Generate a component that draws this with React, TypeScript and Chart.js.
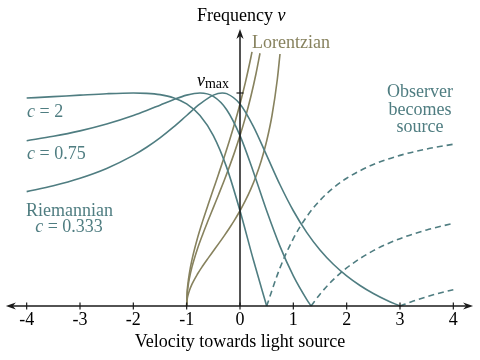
import React, { useEffect, useRef } from "react";
import { Chart, registerables } from "chart.js";

Chart.register(...registerables);

const TEAL = "#4f7d81";
const OLIVE = "#87825e";
const AXIS = "#1a1a1a";

// x-axis tick values and labels
const tickValues = [-4, -3, -2, -1, 0, 1, 2, 3, 4];
const tickLabels = ["-4", "-3", "-2", "-1", "0", "1", "2", "3", "4"];

// Riemannian c = 2
const c2SolidX = [-4, -3.5, -3, -2.5, -2, -1.75, -1.5, -1.25, -1, -0.75, -0.5, -0.25, 0, 0.25, 0.5];
const c2SolidY = [0.9762, 0.9829, 0.9899, 0.9965, 1.0, 0.9984, 0.9923, 0.9778, 0.9487, 0.8944, 0.8, 0.6508, 0.4472, 0.2169, 0];
const c2DashX = [0.5, 0.75, 1, 1.25, 1.5, 1.75, 2, 2.5, 3, 3.5, 4];
const c2DashY = [0, 0.1789, 0.3162, 0.4191, 0.4961, 0.5547, 0.6, 0.6644, 0.7071, 0.7371, 0.7593];

// Riemannian c = 0.75
const c075SolidX = [-4, -3.5, -3, -2.5, -2, -1.75, -1.5, -1.25, -1, -0.75, -0.5, -0.25, 0, 0.25, 0.5, 0.75, 1, 1.25, 1.3333];
const c075SolidY = [0.7761, 0.7967, 0.8222, 0.8542, 0.8944, 0.9178, 0.943, 0.9683, 0.9899, 1.0, 0.9839, 0.9216, 0.8, 0.6306, 0.4472, 0.28, 0.1414, 0.0312, 0];
const c075DashX = [1.3333, 1.5, 1.75, 2, 2.5, 3, 3.5, 4];
const c075DashY = [0, 0.0555, 0.124, 0.1789, 0.26, 0.3162, 0.3571, 0.3881];

// Riemannian c = 0.333
const c033SolidX = [-4, -3.5, -3, -2.5, -2, -1.75, -1.5, -1.25, -1, -0.75, -0.5, -0.3333, -0.25, 0, 0.25, 0.5, 0.75, 1, 1.25, 1.5, 1.75, 2, 2.25, 2.5, 2.75, 3];
const c033SolidY = [0.5369, 0.5647, 0.6, 0.6459, 0.7071, 0.7452, 0.7893, 0.8396, 0.8944, 0.9487, 0.99, 1.0, 0.997, 0.9487, 0.8436, 0.7071, 0.5692, 0.4472, 0.3457, 0.2631, 0.1961, 0.1414, 0.0963, 0.0587, 0.027, 0];
const c033DashX = [3, 3.25, 3.5, 3.75, 4];
const c033DashY = [0, 0.0232, 0.0434, 0.0611, 0.0767];

// Lorentzian curves
const lorC2X = [-1, -0.99, -0.975, -0.95, -0.9, -0.8, -0.7, -0.6, -0.5, -0.4, -0.3, -0.2, -0.1, 0, 0.1, 0.2, 0.3, 0.4, 0.5, 0.6, 0.7, 0.75];
const lorC2Y = [0, 0.0317, 0.0503, 0.0716, 0.1026, 0.1491, 0.1879, 0.2236, 0.2582, 0.2928, 0.3282, 0.3651, 0.4045, 0.4472, 0.4944, 0.5477, 0.6095, 0.6831, 0.7746, 0.8944, 1.0646, 1.1832];
const lorC075X = [-1, -0.99, -0.975, -0.95, -0.9, -0.8, -0.7, -0.6, -0.5, -0.4, -0.3, -0.2, -0.1, 0, 0.1, 0.2, 0.3, 0.375];
const lorC075Y = [0, 0.0567, 0.09, 0.1281, 0.1835, 0.2667, 0.3361, 0.4, 0.4619, 0.5238, 0.587, 0.6532, 0.7236, 0.8, 0.8844, 0.9798, 1.0902, 1.1866];
const lorC033X = [-1, -0.99, -0.975, -0.95, -0.9, -0.8, -0.7, -0.6, -0.5, -0.4, -0.3, -0.2, -0.1, 0, 0.1, 0.2, 0.225];
const lorC033Y = [0, 0.0673, 0.1067, 0.1519, 0.2176, 0.3162, 0.3985, 0.4743, 0.5477, 0.6211, 0.6961, 0.7746, 0.8581, 0.9487, 1.0488, 1.1619, 1.1927];

const X_MIN = -4.5;
const X_MAX = 4.5;
const Y_MIN = -0.2535;
const Y_MAX = 1.4366;

const SERIF = "'Liberation Serif', 'Times New Roman', serif";
const F18 = `18px ${SERIF}`;
const F18I = `italic 18px ${SERIF}`;
const F14 = `14px ${SERIF}`;

function zip(xs: number[], ys: number[]) {
  return xs.map((x, i) => ({ x, y: ys[i] }));
}

type Run = { t: string; font: string; dy?: number };

function drawRuns(ctx: CanvasRenderingContext2D, runs: Run[], x: number, y: number, align: "left" | "center" | "right", color: string) {
  ctx.save();
  ctx.fillStyle = color;
  ctx.textBaseline = "alphabetic";
  ctx.textAlign = "left";
  let total = 0;
  const widths = runs.map((r) => {
    ctx.font = r.font;
    const w = ctx.measureText(r.t).width;
    total += w;
    return w;
  });
  let cx = align === "left" ? x : align === "center" ? x - total / 2 : x - total;
  runs.forEach((r, i) => {
    ctx.font = r.font;
    ctx.fillText(r.t, cx, y + (r.dy || 0));
    cx += widths[i];
  });
  ctx.restore();
}

function arrowHead(ctx: CanvasRenderingContext2D, tx: number, ty: number, dx: number, dy: number) {
  // dx,dy: unit direction of the arrow
  const len = 10;
  const half = 3.6;
  const notch = 7;
  const px = -dy;
  const py = dx;
  ctx.beginPath();
  ctx.moveTo(tx, ty);
  ctx.lineTo(tx - dx * len + px * half, ty - dy * len + py * half);
  ctx.lineTo(tx - dx * notch, ty - dy * notch);
  ctx.lineTo(tx - dx * len - px * half, ty - dy * len - py * half);
  ctx.closePath();
  ctx.fill();
}

const decorPlugin = {
  id: "decor",
  afterDatasetsDraw(chart: any) {
    const ctx: CanvasRenderingContext2D = chart.ctx;
    const xs = chart.scales.x;
    const ys = chart.scales.y;
    const y0 = ys.getPixelForValue(0);
    const x0 = xs.getPixelForValue(0);
    ctx.save();
    ctx.strokeStyle = AXIS;
    ctx.fillStyle = AXIS;
    ctx.lineWidth = 1.5;
    // x axis
    const xl = xs.getPixelForValue(-4.39);
    const xr = xs.getPixelForValue(4.37);
    ctx.beginPath();
    ctx.moveTo(xl + 4, y0);
    ctx.lineTo(xr - 4, y0);
    ctx.stroke();
    arrowHead(ctx, xl, y0, -1, 0);
    arrowHead(ctx, xr, y0, 1, 0);
    // y axis
    const yt = ys.getPixelForValue(1.3);
    ctx.beginPath();
    ctx.moveTo(x0, y0);
    ctx.lineTo(x0, yt + 4);
    ctx.stroke();
    arrowHead(ctx, x0, yt, 0, -1);
    // ticks
    ctx.lineWidth = 1.2;
    tickValues.forEach((v) => {
      const px = xs.getPixelForValue(v);
      ctx.beginPath();
      ctx.moveTo(px, y0 - 3.5);
      ctx.lineTo(px, y0 + 3.5);
      ctx.stroke();
    });
    // nu_max tick
    const ymax = ys.getPixelForValue(1);
    ctx.beginPath();
    ctx.moveTo(x0 - 3.5, ymax);
    ctx.lineTo(x0 + 3.5, ymax);
    ctx.stroke();
    ctx.restore();

    // tick labels
    ctx.save();
    ctx.font = F18;
    ctx.fillStyle = "#000";
    ctx.textAlign = "center";
    ctx.textBaseline = "alphabetic";
    tickValues.forEach((v, i) => {
      ctx.fillText(tickLabels[i], xs.getPixelForValue(v), y0 + 19);
    });
    ctx.fillText("Velocity towards light source", x0, 347);
    ctx.restore();

    drawRuns(ctx, [{ t: "Frequency ", font: F18 }, { t: "ν", font: F18I }], 197, 21, "left", "#000");
    drawRuns(ctx, [{ t: "ν", font: F18I }, { t: "max", font: F14, dy: 2 }], 229, 86, "right", "#000");

    drawRuns(ctx, [{ t: "Lorentzian", font: F18 }], 252, 48, "left", OLIVE);

    drawRuns(ctx, [{ t: "Observer", font: F18 }], 420, 97, "center", TEAL);
    drawRuns(ctx, [{ t: "becomes", font: F18 }], 420, 114.5, "center", TEAL);
    drawRuns(ctx, [{ t: "source", font: F18 }], 420, 132, "center", TEAL);

    drawRuns(ctx, [{ t: "c", font: F18I }, { t: " = 2", font: F18 }], 27, 117, "left", TEAL);
    drawRuns(ctx, [{ t: "c", font: F18I }, { t: " = 0.75", font: F18 }], 27, 159, "left", TEAL);
    drawRuns(ctx, [{ t: "Riemannian", font: F18 }], 69.5, 216, "center", TEAL);
    drawRuns(ctx, [{ t: "c", font: F18I }, { t: " = 0.333", font: F18 }], 69, 232, "center", TEAL);
  },
};

function solid(label: string, xs: number[], ys: number[], color: string) {
  return {
    label,
    data: zip(xs, ys),
    borderColor: color,
    borderWidth: 1.6,
    pointRadius: 0,
    fill: false,
    cubicInterpolationMode: "monotone" as const,
  };
}

function dashed(label: string, xs: number[], ys: number[], color: string) {
  return { ...solid(label, xs, ys, color), borderDash: [6, 4] };
}

export default function App() {
  const ref = useRef<HTMLCanvasElement>(null);
  useEffect(() => {
    const canvas = ref.current;
    if (!canvas) return;
    const chart = new Chart(canvas, {
      type: "line",
      data: {
        datasets: [
          solid("c=2", c2SolidX, c2SolidY, TEAL),
          dashed("c=2 observer", c2DashX, c2DashY, TEAL),
          solid("c=0.75", c075SolidX, c075SolidY, TEAL),
          dashed("c=0.75 observer", c075DashX, c075DashY, TEAL),
          solid("c=0.333", c033SolidX, c033SolidY, TEAL),
          dashed("c=0.333 observer", c033DashX, c033DashY, TEAL),
          solid("Lorentzian c=2", lorC2X, lorC2Y, OLIVE),
          solid("Lorentzian c=0.75", lorC075X, lorC075Y, OLIVE),
          solid("Lorentzian c=0.333", lorC033X, lorC033Y, OLIVE),
        ] as any,
      },
      options: {
        responsive: false,
        maintainAspectRatio: false,
        animation: false,
        devicePixelRatio: 1,
        layout: { padding: 0 },
        plugins: { legend: { display: false }, tooltip: { enabled: false } },
        scales: {
          x: { type: "linear", min: X_MIN, max: X_MAX, display: false },
          y: { type: "linear", min: Y_MIN, max: Y_MAX, display: false },
        },
      },
      plugins: [decorPlugin],
    });
    return () => chart.destroy();
  }, []);
  return (
    <div style={{ position: "absolute", left: 0, top: 0, width: 480, height: 360, background: "#fff" }}>
      <canvas ref={ref} width={480} height={360} style={{ display: "block", width: 480, height: 360 }} />
    </div>
  );
}
